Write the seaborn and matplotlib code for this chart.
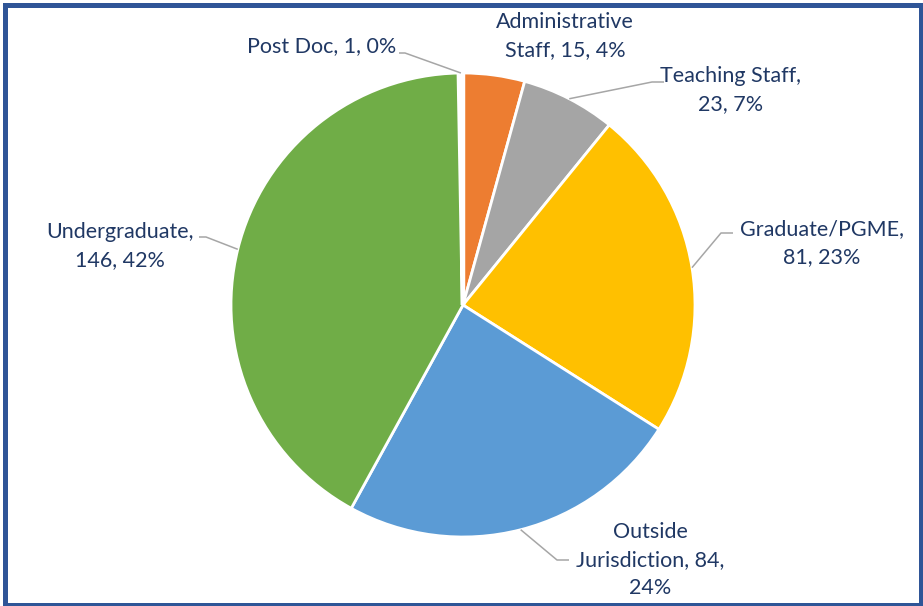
import numpy as np
import matplotlib
matplotlib.use("Agg")
import matplotlib.pyplot as plt
import seaborn as sns
from matplotlib.patches import Rectangle

# data (clockwise from 12 o'clock)
categories = ["Administrative Staff", "Teaching Staff", "Graduate/PGME",
              "Outside Jurisdiction", "Undergraduate", "Post Doc"]
counts = [15, 23, 81, 84, 146, 1]
# label text as Excel wraps it
label_text = ["Administrative\nStaff, {v}, {p}%", "Teaching Staff,\n{v}, {p}%",
              "Graduate/PGME,\n{v}, {p}%", "Outside\nJurisdiction, {v},\n{p}%",
              "Undergraduate,\n{v}, {p}%", "Post Doc, {v}, {p}%"]
colors = ["#ED7D31", "#A5A5A5", "#FFC000", "#5B9BD5", "#70AD47", "#4472C4"]

sns.set_theme(style="white")
plt.rcParams['font.family'] = ['Lato', 'DejaVu Sans']

W, H = 923, 606
fig = plt.figure(figsize=(W / 100, H / 100), dpi=100)
ax = fig.add_axes([0, 0, 1, 1])

def py(y):
    # pixel row -> data y
    return H - y

cx, cy, r = 463, 305, 232
wedges, _ = ax.pie(counts, colors=colors, startangle=90, counterclock=False,
                   center=(cx, py(cy)), radius=r,
                   wedgeprops=dict(edgecolor="white", linewidth=2))
# tiny Post Doc slice is hidden under the white borders in the original
wedges[-1].set_linewidth(3.2)
ax.set_xlim(0, W)
ax.set_ylim(0, H)
ax.set_aspect("equal")
ax.axis("off")

total = sum(counts)
# layout: label centre, elbow point, stub end (pixels); None = no leader
text_pos = [(565, 36), (731, 90), (822, 243), (650, 560), (120, 246), (322, 46)]
elbows = [None, ((652, 82), (664, 82)), ((721, 233), (733, 233)),
          ((557, 560), (569, 560)), ((206, 237), (199, 237)),
          ((405, 53), (399, 53))]

for w, n, lt, tp, el in zip(wedges, counts, label_text, text_pos, elbows):
    pct = int(round(100 * n / total))
    ax.text(tp[0], py(tp[1]), lt.format(v=n, p=pct), ha="center", va="center",
            fontsize=15.5, color="#203864", linespacing=1.5)
    if el is None:
        continue
    mid = np.deg2rad((w.theta1 + w.theta2) / 2)
    x0 = cx + r * np.cos(mid)
    y0 = py(cy) + r * np.sin(mid)
    xs = [x0, el[0][0], el[1][0]]
    ys = [y0, py(el[0][1]), py(el[1][1])]
    ax.plot(xs, ys, color="#A6A6A6", lw=1.1, solid_capstyle="butt")

fig.patches.append(Rectangle((4.5 / W, 1.5 / H), (921 - 4.5) / W, (604.5 - 4.5) / H,
                             transform=fig.transFigure, fill=False,
                             edgecolor="#2F5597", linewidth=3.6))

plt.savefig("out.png", dpi=100)
